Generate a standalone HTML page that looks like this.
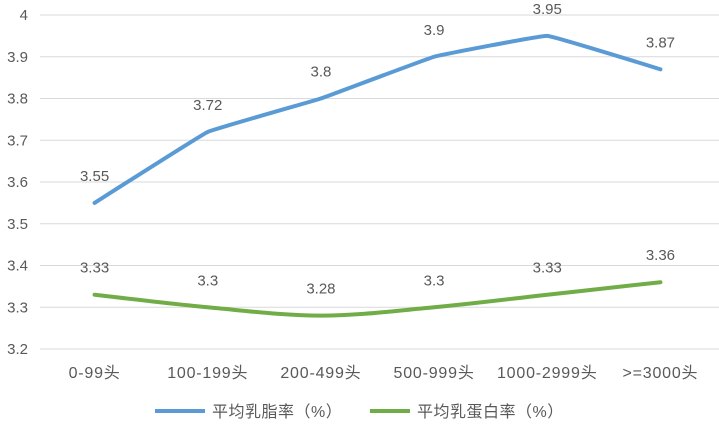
<!DOCTYPE html>
<html><head><meta charset="utf-8"><style>
body{margin:0;background:#fff;}
svg text{font-family:"Liberation Sans","Noto Sans CJK SC",sans-serif;fill:#595959;}
</style></head><body>
<svg width="719" height="424">
<g id="grid"></g><g id="ylab"></g><g id="xlab"></g><g id="series"></g>
<g>
<line x1="155" y1="411" x2="205" y2="411" stroke="#5b9bd5" stroke-width="4"/>
<text x="212" y="417" font-size="16" letter-spacing="0.5">平均乳脂率（%）</text>
<line x1="370" y1="411" x2="410" y2="411" stroke="#70ad47" stroke-width="4"/>
<text x="417" y="417" font-size="16" letter-spacing="0.5">平均乳蛋白率（%）</text>
</g>
</svg>
<script>
const categories=["0-99头","100-199头","200-499头","500-999头","1000-2999头",">=3000头"];
const fatValues=[3.55,3.72,3.8,3.9,3.95,3.87];
const proteinValues=[3.33,3.3,3.28,3.3,3.33,3.36];
const yTicks=[3.2,3.3,3.4,3.5,3.6,3.7,3.8,3.9,4];
const yLabels=["3.2","3.3","3.4","3.5","3.6","3.7","3.8","3.9","4"];
const NS="http://www.w3.org/2000/svg";
const L=40,R=719,T=15,B=349,ymin=3.2,ymax=4;
const y=v=>B-(v-ymin)/(ymax-ymin)*(B-T);
const bw=(R-L)/categories.length;
const x=i=>L+bw*(i+0.5)-2;
function mk(tag,attrs,parent){const e=document.createElementNS(NS,tag);for(const k in attrs)e.setAttribute(k,attrs[k]);document.getElementById(parent).appendChild(e);return e;}
yTicks.forEach((v,i)=>{
 const g=mk('line',{x1:L,x2:R,y1:y(v),y2:y(v),stroke:'#d9d9d9','stroke-width':1},'grid');
 
 
 const t=mk('text',{x:28,y:y(v)+5,'text-anchor':'end','font-size':15},'ylab');
 t.textContent=yLabels[i];
 
 
});
categories.forEach((c,i)=>{
 const t=mk('text',{x:x(i),y:378,'text-anchor':'middle','font-size':16,'letter-spacing':0.8},'xlab');
 t.textContent=c;
 
 
});
function smooth(pts,k){let d=`M${pts[0][0]},${pts[0][1]}`;for(let i=0;i<pts.length-1;i++){const p0=pts[i-1]||pts[i],p1=pts[i],p2=pts[i+1],p3=pts[i+2]||p2;d+=` C${p1[0]+(p2[0]-p0[0])*k},${p1[1]+(p2[1]-p0[1])*k} ${p2[0]-(p3[0]-p1[0])*k},${p2[1]-(p3[1]-p1[1])*k} ${p2[0]},${p2[1]}`;}return d;}
function series(vals,color,name,k){
 const pts=vals.map((v,i)=>[x(i),y(v)]);
 const p=mk('path',{d:smooth(pts,k),fill:'none',stroke:color,'stroke-width':4,'stroke-linecap':'round','stroke-linejoin':'round'},'series');
 
 
 vals.forEach((v,i)=>{
  const t=mk('text',{x:x(i),y:y(v)-22,'text-anchor':'middle','font-size':15},'series');
  t.textContent=String(v);
  
  
 });
}
series(fatValues,'#5b9bd5','fat',0.03);
series(proteinValues,'#70ad47','protein',1/6);
</script>
</body></html>
